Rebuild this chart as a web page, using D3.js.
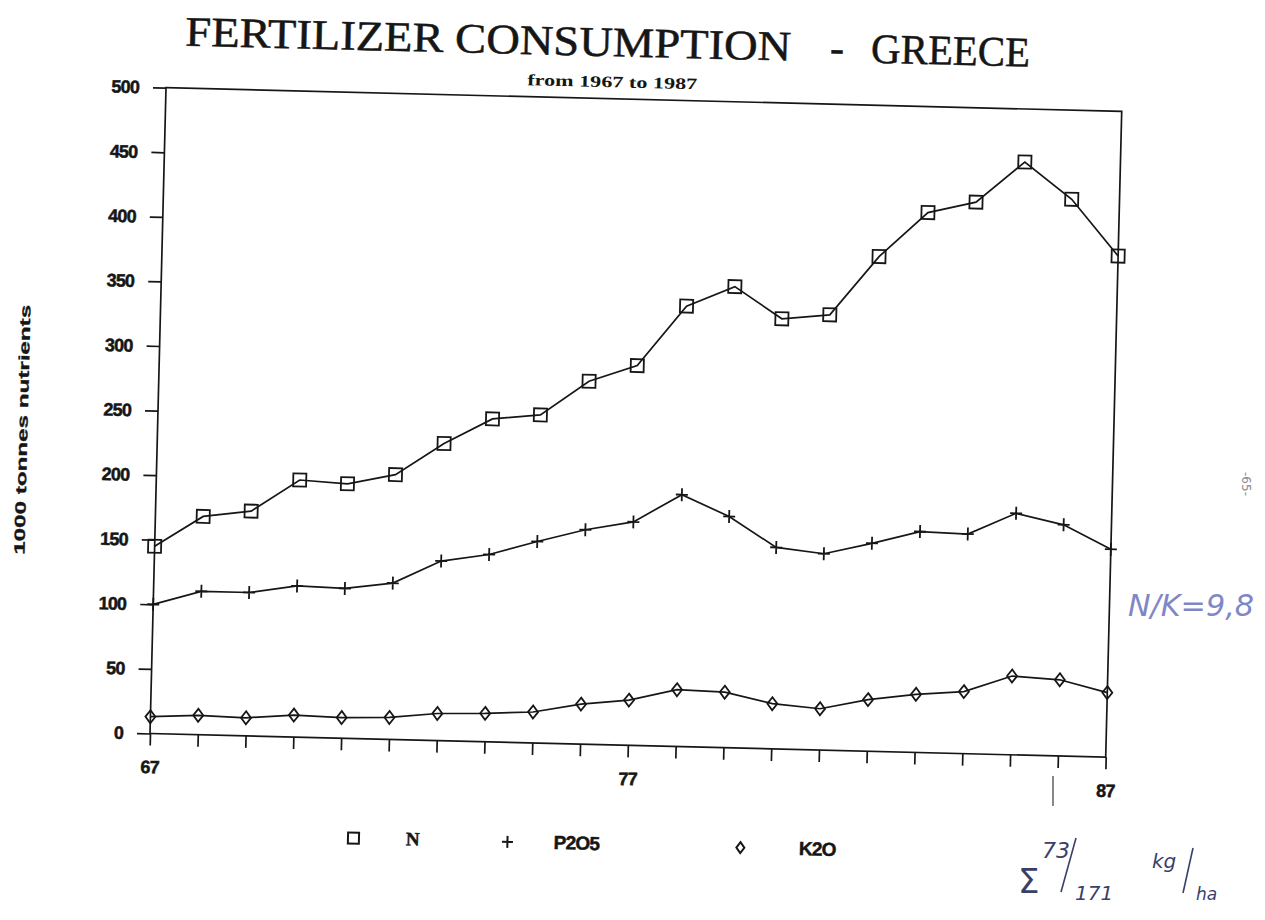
<!DOCTYPE html>
<html>
<head>
<meta charset="utf-8">
<script src="https://cdn.jsdelivr.net/npm/d3@7"></script>
<style>
  body { margin: 0; background: #fff; }
  svg text { fill: #161616; }
</style>
</head>
<body>
<svg id="chart" width="1265" height="920"></svg>
<script>
// Fertilizer consumption in Greece, 1000 tonnes of nutrients
const years = [67, 68, 69, 70, 71, 72, 73, 74, 75, 76, 77, 78, 79, 80, 81, 82, 83, 84, 85, 86, 87];
const nitrogen = [145, 169, 174, 199, 197, 205, 230, 250, 254, 281, 294, 341, 357, 333, 337, 383, 418, 427, 459, 431, 388];
const phosphate = [100, 111, 111, 117, 116, 121, 139, 145, 156, 166, 173, 195, 179, 156, 152, 161, 171, 170, 187, 179, 161];
const potash = [13, 15, 14, 17, 16, 17, 21, 22, 24, 31, 35, 44, 43, 35, 32, 40, 45, 48, 61, 59, 50];
const yTicks = [0, 50, 100, 150, 200, 250, 300, 350, 400, 450, 500];
const xTickLabels = [67, 77, 87];
const seriesNames = ["N", "P2O5", "K2O"];

const ink = "#161616";
const svg = d3.select("#chart");
svg.append("rect").attr("width", 1265).attr("height", 920).attr("fill", "#ffffff");

// the printed sheet sits slightly askew
const sheet = svg.append("g").attr("transform", "rotate(1.42,150,733.5)");

const x = d3.scaleLinear().domain([67, 87]).range([150, 1106]);
const y = d3.scaleLinear().domain([0, 500]).range([733.5, 87.5]);

// title
const titleFont = "'Liberation Serif', 'Times New Roman', serif";
const titleStyle = t => t
  .attr("font-family", titleFont).attr("font-size", 42)
  .attr("stroke", ink).attr("stroke-width", 0.5);
titleStyle(sheet.append("text").attr("x", 168).attr("y", 45))
  .attr("textLength", 606).attr("lengthAdjust", "spacingAndGlyphs")
  .text("FERTILIZER CONSUMPTION");
titleStyle(sheet.append("text").attr("x", 820).attr("y", 45).attr("text-anchor", "middle"))
  .text("-");
titleStyle(sheet.append("text").attr("x", 854).attr("y", 45))
  .attr("textLength", 159).attr("lengthAdjust", "spacingAndGlyphs")
  .text("GREECE");
sheet.append("text").attr("x", 596).attr("y", 76).attr("text-anchor", "middle")
  .attr("font-family", "'Liberation Serif', serif")
  .attr("font-weight", "bold").attr("font-size", 16)
  .attr("textLength", 170).attr("lengthAdjust", "spacingAndGlyphs")
  .text("from 1967 to 1987");

// plot frame
sheet.append("rect")
  .attr("x", x(67)).attr("y", y(500))
  .attr("width", x(87) - x(67)).attr("height", y(0) - y(500))
  .attr("fill", "none").attr("stroke", ink).attr("stroke-width", 1.7);

const labelFont = "'Liberation Sans', Arial, sans-serif";
const styleLabels = sel => sel
  .attr("font-family", labelFont).attr("font-weight", "bold").attr("font-size", 18)
  .attr("letter-spacing", -0.8).attr("fill", ink)
  .attr("stroke", ink).attr("stroke-width", 0.5);

// y axis
const yAxis = sheet.append("g").attr("transform", `translate(${x(67)},0)`)
  .call(d3.axisLeft(y).tickValues(yTicks).tickSize(13).tickPadding(14));
yAxis.select(".domain").remove();
yAxis.selectAll(".tick line").attr("stroke", ink).attr("stroke-width", 1.7);
styleLabels(yAxis.selectAll(".tick text"));

// x axis
const xAxis = sheet.append("g").attr("transform", `translate(0,${y(0)})`)
  .call(d3.axisBottom(x).tickValues(years).tickSize(12).tickPadding(15)
    .tickFormat(d => xTickLabels.includes(d) ? String(d) : ""));
xAxis.select(".domain").remove();
xAxis.selectAll(".tick line").attr("stroke", ink).attr("stroke-width", 1.7);
styleLabels(xAxis.selectAll(".tick text"));

// y axis title
sheet.append("text")
  .attr("transform", "translate(20,433) rotate(-90)")
  .attr("text-anchor", "middle")
  .attr("font-family", labelFont).attr("font-weight", "bold").attr("font-size", 15)
  .attr("stroke", ink).attr("stroke-width", 0.3)
  .attr("textLength", 250).attr("lengthAdjust", "spacingAndGlyphs")
  .text("1000 tonnes nutrients");

// marker shapes
const markerPaths = {
  square: "M-6.5,-6.5H6.5V6.5H-6.5Z",
  plus: "M-6,0H6M0,-6.5V6.5",
  diamond: "M0,-6.5L5,0L0,6.5L-5,0Z"
};

const series = [
  { name: seriesNames[0], values: nitrogen, marker: "square" },
  { name: seriesNames[1], values: phosphate, marker: "plus" },
  { name: seriesNames[2], values: potash, marker: "diamond" }
];

const line = d3.line().x((d, i) => x(years[i])).y(d => y(d));

series.forEach(s => {
  sheet.append("path").datum(s.values)
    .attr("d", line).attr("fill", "none")
    .attr("stroke", ink).attr("stroke-width", 1.7);
  sheet.append("g").selectAll("path").data(s.values).join("path")
    .attr("transform", (d, i) => `translate(${x(years[i])},${y(d)})`)
    .attr("d", markerPaths[s.marker])
    .attr("fill", "none")
    .attr("stroke", ink).attr("stroke-width", 1.8);
});

// legend
const legendY = 833;
const legendMarks = {
  square: "M-5.5,-5.5H5.5V5.5H-5.5Z",
  plus: "M-5.5,0H5.5M0,-6V6",
  diamond: "M0,-5.5L4,0L0,5.5L-4,0Z"
};
const legendItems = [
  { marker: "square", mx: 356, tx: 415, name: seriesNames[0] },
  { marker: "plus", mx: 510, tx: 579, name: seriesNames[1] },
  { marker: "diamond", mx: 743, tx: 820, name: seriesNames[2] }
];
const legend = sheet.append("g");
legendItems.forEach(it => {
  legend.append("path")
    .attr("transform", `translate(${it.mx},${legendY})`)
    .attr("d", legendMarks[it.marker])
    .attr("fill", "none").attr("stroke", ink).attr("stroke-width", 2);
  legend.append("text")
    .attr("x", it.tx).attr("y", legendY + 6).attr("text-anchor", "middle")
    .attr("font-family", it.name === "N" ? "'Liberation Serif', serif" : labelFont)
    .attr("font-weight", "bold").attr("font-size", 19).attr("letter-spacing", -0.8)
    .attr("stroke", ink).attr("stroke-width", 0.5)
    .text(it.name);
});

// pencil notes on the sheet
svg.append("text")
  .attr("transform", "translate(1242,484) rotate(90)")
  .attr("text-anchor", "middle")
  .attr("font-family", "'DejaVu Sans', sans-serif").attr("font-size", 12)
  .style("fill", "#8a8a8a")
  .text("-65-");

svg.append("text")
  .attr("x", 1128).attr("y", 616)
  .attr("font-family", "'DejaVu Sans', sans-serif").attr("font-style", "italic")
  .attr("font-weight", 300).attr("font-size", 30)
  .attr("textLength", 126).attr("lengthAdjust", "spacingAndGlyphs")
  .style("fill", "#7f87c6")
  .text("N/K=9,8");

const pen = "#3a3f6a";
svg.append("line").attr("x1", 1053).attr("y1", 776).attr("x2", 1053).attr("y2", 806)
  .attr("stroke", "#555").attr("stroke-width", 1.4);
svg.append("text").attr("x", 1018).attr("y", 893)
  .attr("font-family", "'DejaVu Sans', sans-serif").attr("font-size", 34)
  .style("fill", pen).text("Σ");
svg.append("text").attr("x", 1042).attr("y", 858)
  .attr("font-family", "'DejaVu Sans', sans-serif").attr("font-style", "italic").attr("font-size", 22)
  .style("fill", pen).text("73");
svg.append("line").attr("x1", 1076).attr("y1", 838).attr("x2", 1061).attr("y2", 892)
  .attr("stroke", pen).attr("stroke-width", 1.6);
svg.append("text").attr("x", 1075).attr("y", 900)
  .attr("font-family", "'DejaVu Sans', sans-serif").attr("font-style", "italic").attr("font-size", 20)
  .style("fill", pen).text("171");
svg.append("text").attr("x", 1152).attr("y", 868)
  .attr("font-family", "'DejaVu Sans', sans-serif").attr("font-style", "italic").attr("font-size", 20)
  .style("fill", pen).text("kg");
svg.append("line").attr("x1", 1193).attr("y1", 848).attr("x2", 1183).attr("y2", 893)
  .attr("stroke", pen).attr("stroke-width", 1.6);
svg.append("text").attr("x", 1196).attr("y", 900)
  .attr("font-family", "'DejaVu Sans', sans-serif").attr("font-style", "italic").attr("font-size", 17)
  .style("fill", pen).text("ha");
</script>
</body>
</html>
